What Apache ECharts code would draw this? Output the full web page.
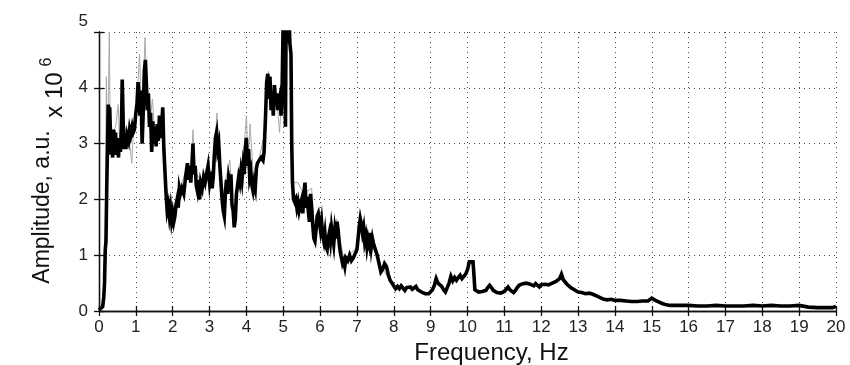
<!DOCTYPE html>
<html><head><meta charset="utf-8">
<script src="https://cdn.jsdelivr.net/npm/echarts@6/dist/echarts.min.js"></script>
<style>html,body{margin:0;padding:0;background:#fff}#c{width:850px;height:365px}</style>
</head><body><div id="c"></div>
<script>
// Frequency (Hz) and amplitude (x 1e6) of the thick black spectrum
const blackFreq = [0.00,0.05,0.10,0.13,0.15,0.17,0.19,0.21,0.23,0.25,0.27,0.29,0.31,0.33,0.35,0.37,0.40,0.42,0.45,0.47,0.50,0.53,0.55,0.58,0.61,0.63,0.65,0.67,0.70,0.73,0.76,0.80,0.83,0.86,0.90,0.93,0.96,1.00,1.03,1.06,1.09,1.11,1.14,1.17,1.20,1.23,1.26,1.29,1.31,1.34,1.37,1.40,1.43,1.46,1.49,1.52,1.55,1.58,1.61,1.64,1.67,1.70,1.73,1.76,1.79,1.82,1.85,1.88,1.91,1.94,1.97,2.00,2.03,2.06,2.09,2.12,2.15,2.18,2.21,2.25,2.30,2.35,2.40,2.43,2.46,2.49,2.52,2.55,2.58,2.61,2.64,2.67,2.70,2.73,2.76,2.80,2.84,2.88,2.92,2.96,3.00,3.04,3.07,3.10,3.13,3.16,3.19,3.22,3.25,3.28,3.31,3.34,3.37,3.40,3.43,3.46,3.49,3.52,3.55,3.58,3.61,3.64,3.67,3.70,3.73,3.76,3.79,3.82,3.85,3.88,3.91,3.94,3.97,4.00,4.03,4.06,4.09,4.12,4.15,4.18,4.21,4.24,4.27,4.30,4.35,4.40,4.45,4.48,4.52,4.55,4.58,4.61,4.64,4.67,4.70,4.73,4.76,4.79,4.82,4.85,4.88,4.91,4.94,4.97,5.00,5.03,5.06,5.08,5.12,5.15,5.18,5.21,5.23,5.25,5.28,5.31,5.34,5.37,5.40,5.43,5.46,5.50,5.53,5.56,5.59,5.62,5.65,5.68,5.71,5.74,5.77,5.80,5.83,5.86,5.89,5.92,5.95,5.98,6.01,6.04,6.07,6.10,6.13,6.16,6.19,6.22,6.25,6.28,6.31,6.34,6.37,6.40,6.43,6.46,6.49,6.52,6.55,6.58,6.61,6.64,6.67,6.70,6.75,6.80,6.85,6.90,6.95,7.00,7.03,7.06,7.09,7.12,7.15,7.18,7.21,7.24,7.27,7.30,7.33,7.36,7.39,7.42,7.45,7.50,7.55,7.60,7.65,7.70,7.75,7.80,7.85,7.90,7.95,
  8.00,8.05,8.10,8.15,8.20,8.25,8.30,8.35,8.40,8.45,8.50,8.55,8.60,8.65,8.70,8.75,8.80,8.85,8.90,8.95,9.00,9.05,9.10,9.15,9.20,9.25,9.30,9.35,9.40,9.45,9.50,9.55,9.60,9.65,9.70,9.75,9.80,9.85,9.90,9.95,10.00,10.05,10.10,10.15,10.18,10.20,10.25,10.30,10.35,10.40,10.45,10.50,10.55,10.60,10.65,10.70,10.75,10.80,10.85,10.90,10.95,11.00,11.05,11.10,11.15,11.20,11.25,11.30,11.35,11.40,11.45,11.50,11.55,11.60,11.65,11.70,11.75,11.80,11.85,11.90,11.95,12.00,12.05,12.10,12.15,12.20,12.25,12.30,12.35,12.40,12.45,12.50,12.55,12.60,12.65,12.70,12.75,12.80,12.85,12.90,12.95,13.00,13.10,13.20,13.30,13.40,13.50,13.60,13.70,13.80,13.90,14.00,14.15,14.30,14.45,14.60,14.75,14.90,15.00,15.05,15.10,15.20,15.30,15.40,15.50,15.75,16.00,16.25,16.50,16.75,17.00,17.25,17.50,17.75,18.00,18.25,18.50,18.75,19.00,19.05,19.25,19.50,19.75,19.90,20.00];
const blackAmp = [0.02,0.03,0.08,0.25,0.5,1.1,1.25,2.2,2.9,3.7,3.55,3.65,3.2,2.8,3.0,2.75,3.25,2.9,3.2,2.8,3.05,2.75,3.1,2.85,3.3,4.15,3.6,2.9,3.1,2.9,3.15,3.05,3.25,3.15,3.3,3.2,3.25,3.55,3.7,4.1,3.8,3.5,3.95,3.0,3.55,4.3,4.5,4.0,3.6,3.9,3.3,3.55,2.85,3.4,3.0,3.3,2.95,3.35,3.05,3.5,3.1,3.3,3.65,2.9,2.5,2.1,1.8,1.9,1.7,1.85,1.62,1.75,1.6,1.7,1.9,2.0,1.85,2.2,2.1,2.2,2.1,2.4,2.65,2.35,2.6,2.3,2.6,3.0,2.45,2.6,2.25,2.15,2.35,2.0,2.3,2.2,2.4,2.3,2.45,2.6,2.3,2.5,2.2,2.4,2.8,3.1,3.2,2.9,3.0,2.6,2.3,2.0,1.8,1.7,2.1,2.35,2.1,2.4,2.3,2.45,1.9,1.8,1.5,1.65,2.1,2.25,2.4,2.3,2.5,2.35,2.6,2.45,2.9,3.1,2.6,2.9,2.4,2.5,2.25,2.15,2.3,2.2,2.55,2.65,2.7,2.75,2.7,2.85,3.5,4.1,4.25,3.8,4.2,3.6,3.9,3.5,4.05,3.7,3.9,3.6,3.75,3.85,3.5,4.0,5.3,4.6,3.3,5.5,4.8,5.4,4.8,4.6,3.0,2.3,2.0,1.95,2.0,1.85,1.95,1.8,1.9,2.0,1.75,2.1,2.3,1.85,2.05,1.8,1.6,2.1,1.85,1.55,1.3,1.25,1.45,1.7,1.75,1.6,1.45,1.6,1.35,1.25,1.4,1.15,1.1,1.3,1.4,1.25,1.5,1.35,1.2,1.45,1.3,1.6,1.45,1.2,1.05,0.95,0.85,0.9,0.8,0.95,0.9,1.0,0.9,0.95,0.93,1.1,1.3,1.5,1.65,1.55,1.4,1.5,1.25,1.35,1.15,1.3,1.2,1.4,1.15,1.3,1.2,1.1,1.0,0.85,0.7,0.75,0.85,0.8,0.65,0.55,0.5,
  0.45,0.4,0.44,0.4,0.45,0.41,0.37,0.42,0.4,0.43,0.39,0.42,0.44,0.38,0.37,0.34,0.32,0.31,0.33,0.31,0.33,0.38,0.46,0.58,0.5,0.47,0.44,0.38,0.34,0.42,0.5,0.62,0.54,0.6,0.55,0.6,0.64,0.58,0.62,0.66,0.74,0.88,0.91,0.88,0.6,0.38,0.36,0.34,0.36,0.35,0.38,0.37,0.42,0.46,0.42,0.37,0.35,0.33,0.31,0.32,0.3,0.35,0.39,0.43,0.38,0.36,0.33,0.37,0.42,0.46,0.43,0.49,0.52,0.5,0.53,0.48,0.47,0.45,0.49,0.46,0.43,0.47,0.44,0.48,0.45,0.47,0.44,0.5,0.48,0.53,0.55,0.58,0.66,0.56,0.52,0.48,0.45,0.42,0.4,0.38,0.36,0.34,0.33,0.31,0.32,0.3,0.27,0.24,0.21,0.2,0.21,0.19,0.19,0.18,0.17,0.17,0.18,0.18,0.23,0.21,0.19,0.16,0.13,0.11,0.1,0.1,0.1,0.09,0.09,0.1,0.09,0.09,0.09,0.1,0.09,0.1,0.09,0.09,0.1,0.07,0.07,0.06,0.06,0.06,0.08];
// Thin gray spectrum drawn behind (visible where its spikes exceed the black one)
const grayFreq = [0.00,0.12,0.17,0.20,0.22,0.25,0.28,0.30,0.35,0.45,0.52,0.56,0.60,0.63,0.67,0.75,0.85,0.89,0.93,1.00,1.05,1.10,1.15,1.20,1.25,1.30,1.40,1.45,1.52,1.60,1.70,1.75,1.80,1.90,2.00,2.10,2.20,2.40,2.50,2.55,2.60,2.80,2.95,3.05,3.15,3.20,3.25,3.35,3.45,3.55,3.65,3.75,3.90,4.00,4.05,4.10,4.20,4.35,4.50,4.60,4.70,4.80,4.90,4.97,5.00,5.06,5.10,5.22,5.26,5.40,5.55,5.77,5.86,6.00,6.20,6.45,6.65,7.00,7.10,7.30,7.45,7.65,7.95];
const grayAmp = [0.02,0.2,1.5,4.2,3.0,3.7,5.0,3.5,3.2,3.3,3.7,3.0,3.5,4.0,3.0,3.3,2.9,2.65,3.2,3.6,4.0,4.6,3.6,4.0,4.9,3.9,3.5,3.8,3.1,3.3,3.4,3.6,2.4,1.8,1.7,1.9,2.2,2.6,2.5,3.25,2.5,2.3,2.65,2.4,3.0,3.55,2.9,2.0,2.4,2.7,1.7,2.3,2.6,3.5,2.7,3.35,2.3,2.75,3.2,4.3,3.7,4.0,3.2,4.0,5.3,3.4,5.5,4.6,2.3,2.3,2.1,2.2,1.3,1.7,1.2,1.65,0.9,1.15,1.7,1.3,1.3,0.8,0.5];
const xTicks = [0,1,2,3,4,5,6,7,8,9,10,11,12,13,14,15,16,17,18,19,20];
const yTicks = [0,1,2,3,4,5];

const zip = (a,b)=>a.map((v,i)=>[v,b[i]]);
const FONT = "'Liberation Sans', Arial, sans-serif";
const chart = echarts.init(document.getElementById('c'), null, {renderer:'canvas'});
const axisLine = {show:true, lineStyle:{color:'#111', width:1.3}};
const tick = {show:true, inside:true, length:5, lineStyle:{color:'#111', width:1.3}};
const grid = {show:true, lineStyle:{color:'#444', type:[1,4], width:1}};
chart.setOption({
  animation:false,
  backgroundColor:'#fff',
  grid:{left:99, right:14, top:32, bottom:54, containLabel:false, outerBoundsMode:'none'},
  xAxis:[
    {type:'value', min:xTicks[0], max:xTicks[xTicks.length-1], interval:1, position:'bottom',
     axisLine, axisTick:tick, splitLine:grid,
     axisLabel:{color:'#222', fontSize:17, fontFamily:FONT, margin:8},
     name:'Frequency, Hz', nameLocation:'middle', nameGap:29,
     nameTextStyle:{color:'#111', fontSize:24, fontFamily:FONT, padding:[0,0,0,48]}},
    {type:'value', min:0, max:20, interval:1, position:'top',
     axisLine, axisTick:tick, splitLine:{show:false}, axisLabel:{show:false}}
  ],
  yAxis:[
    {type:'value', min:yTicks[0], max:yTicks[yTicks.length-1], interval:1, position:'left',
     axisLine, axisTick:tick, splitLine:grid,
     axisLabel:{color:'#222', fontSize:17, fontFamily:FONT, margin:11,
       formatter:v=> v===5 ? '{top|5}' : String(v),
       rich:{top:{fontSize:17, fontFamily:FONT, color:'#222', padding:[0,0,22,0]}}}},
    {type:'value', min:0, max:5, interval:1, position:'right',
     axisLine, axisTick:tick, splitLine:{show:false}, axisLabel:{show:false}}
  ],
  graphic:[
    {type:'text', x:43, y:207, rotation:Math.PI/2,
     style:{text:'Amplitude, a.u.', font:"23px 'Liberation Sans', Arial, sans-serif", fill:'#111', align:'center', verticalAlign:'middle'}},
    {type:'text', x:55, y:95, rotation:Math.PI/2,
     style:{text:'x 10', font:"24px 'Liberation Sans', Arial, sans-serif", fill:'#111', align:'center', verticalAlign:'middle'}},
    {type:'text', x:47, y:62, rotation:Math.PI/2,
     style:{text:'6', font:"16px 'Liberation Sans', Arial, sans-serif", fill:'#111', align:'center', verticalAlign:'middle'}}
  ],
  series:[
    {type:'line', data:zip(grayFreq, grayAmp), showSymbol:false, clip:true,
     lineStyle:{color:'#a8a8a8', width:1}, z:2},
    {type:'line', data:zip(blackFreq, blackAmp), showSymbol:false, clip:true,
     lineStyle:{color:'#000', width:3.6, join:'miter'}, z:3}
  ]
});
</script>
</body></html>
